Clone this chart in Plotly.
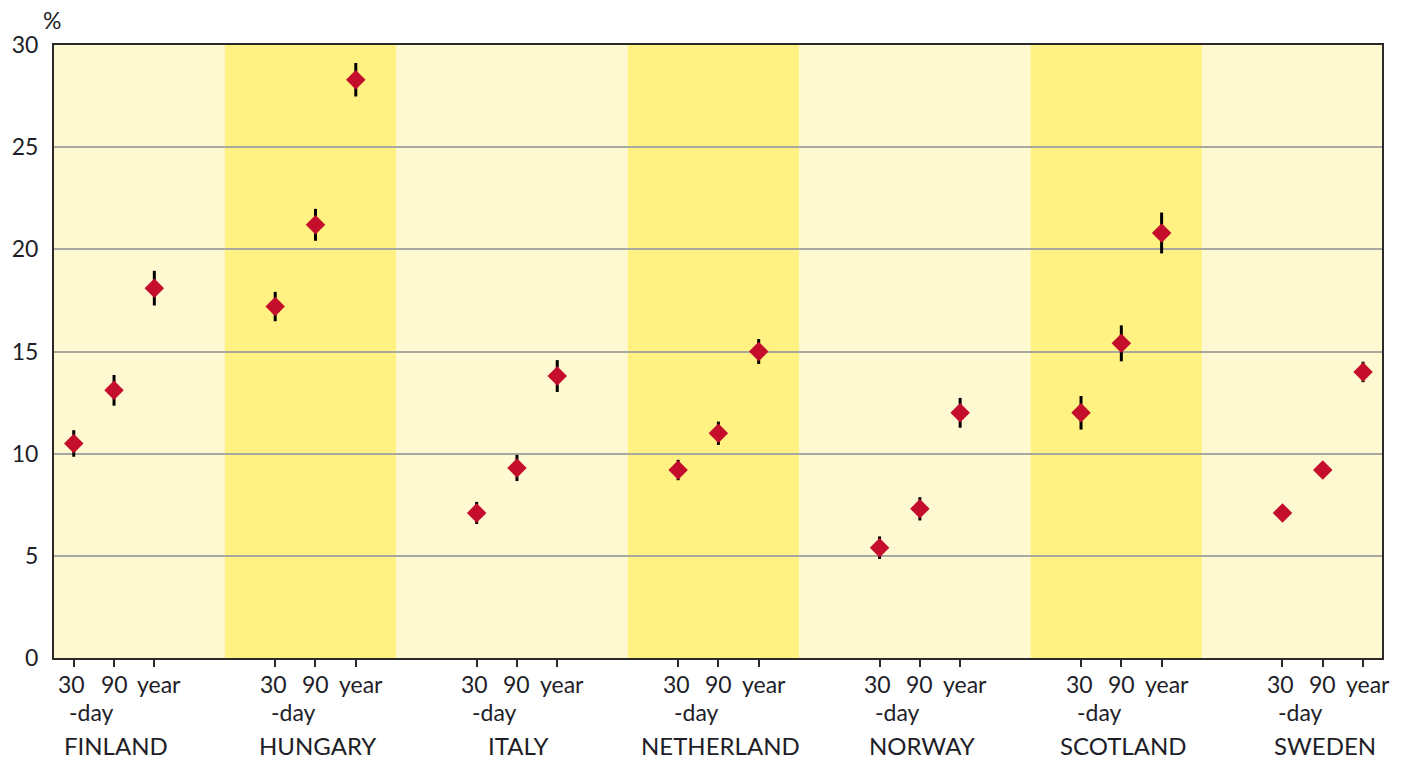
import plotly.graph_objects as go

# Mortality by country and follow-up period (%), with confidence half-widths
countries = ["FINLAND", "HUNGARY", "ITALY", "NETHERLAND", "NORWAY", "SCOTLAND", "SWEDEN"]
period_labels = ["30", "90", "year"]

mort_30 = [10.5, 17.2, 7.1, 9.2, 5.4, 12.0, 7.1]
mort_90 = [13.1, 21.2, 9.3, 11.0, 7.3, 15.4, 9.2]
mort_year = [18.1, 28.3, 13.8, 15.0, 12.0, 20.8, 14.0]

err_30 = [0.65, 0.72, 0.54, 0.50, 0.55, 0.82, 0.30]
err_90 = [0.75, 0.78, 0.64, 0.57, 0.57, 0.88, 0.30]
err_year = [0.85, 0.82, 0.78, 0.61, 0.73, 1.00, 0.50]

y_ticks = [0, 5, 10, 15, 20, 25, 30]

GROUP_STEP = 5
LIGHT = "#FFF9D2"
DARK = "#FFF283"
RED = "#C40E2C"
TEXT = "#1E1E28"
FONT = "Lato"
FS = 23

series = [mort_30, mort_90, mort_year]
errors = [err_30, err_90, err_year]

xs, ys, es = [], [], []
for g in range(len(countries)):
    for k in range(len(period_labels)):
        xs.append(GROUP_STEP * g + k)
        ys.append(series[k][g])
        es.append(errors[k][g])

fig = go.Figure()
fig.add_trace(go.Scatter(
    x=xs, y=ys, mode="markers",
    marker=dict(symbol="diamond", size=15, color=RED, line=dict(width=0)),
    error_y=dict(type="data", array=es, visible=True, color="black",
                 thickness=3, width=0),
    showlegend=False, hoverinfo="x+y",
))

# alternating country bands
shapes = []
for g in range(len(countries)):
    if g % 2 == 1:
        x0 = GROUP_STEP * g - 1.25
        shapes.append(dict(type="rect", xref="x", yref="paper",
                           x0=x0, x1=x0 + 4.25, y0=0, y1=1,
                           fillcolor=DARK, line=dict(width=0), layer="below"))


def label(x, text, xshift, yshift, size=FS):
    return dict(x=x, y=0, xref="x", yref="paper", text=text, showarrow=False,
                xanchor="center", yanchor="middle", xshift=xshift, yshift=yshift,
                borderpad=0, font=dict(size=size, color=TEXT, family=FONT))


annotations = []
for g, name in enumerate(countries):
    base = GROUP_STEP * g
    annotations.append(label(base, period_labels[0], -2, -26))
    annotations.append(label(base, "-day", 18, -54))
    annotations.append(label(base + 1, period_labels[1], 0, -26))
    annotations.append(label(base + 2, period_labels[2], 5, -26))
    annotations.append(label(base + 1, name, 2, -87, size=24))

annotations.append(dict(x=0, y=1, xref="paper", yref="paper", text="%",
                        showarrow=False, xanchor="center", yanchor="middle",
                        xshift=-2, yshift=25,
                        font=dict(size=FS, color=TEXT, family=FONT)))

fig.update_layout(
    width=1405, height=761,
    margin=dict(l=49, r=23, t=45, b=103),
    paper_bgcolor="white", plot_bgcolor=LIGHT,
    shapes=shapes, annotations=annotations,
    font=dict(family=FONT, color=TEXT, size=FS),
)
fig.update_xaxes(
    range=[-0.49, GROUP_STEP * (len(countries) - 1) + 2.47],
    tickvals=xs, ticktext=[""] * len(xs), ticks="outside", ticklen=7,
    tickwidth=2, tickcolor="#2A2A2A", showgrid=False, zeroline=False,
    showline=True, linecolor="#2A2A2A", linewidth=2, mirror=True,
)
fig.update_yaxes(
    range=[0, 30], tickvals=y_ticks, ticks="", ticklabelstandoff=9,
    showgrid=True, gridcolor="#A8A8A0", gridwidth=2, zeroline=False,
    showline=True, linecolor="#2A2A2A", linewidth=2, mirror=True,
    tickfont=dict(size=FS, color=TEXT, family=FONT),
)

fig.write_html("out.html")
